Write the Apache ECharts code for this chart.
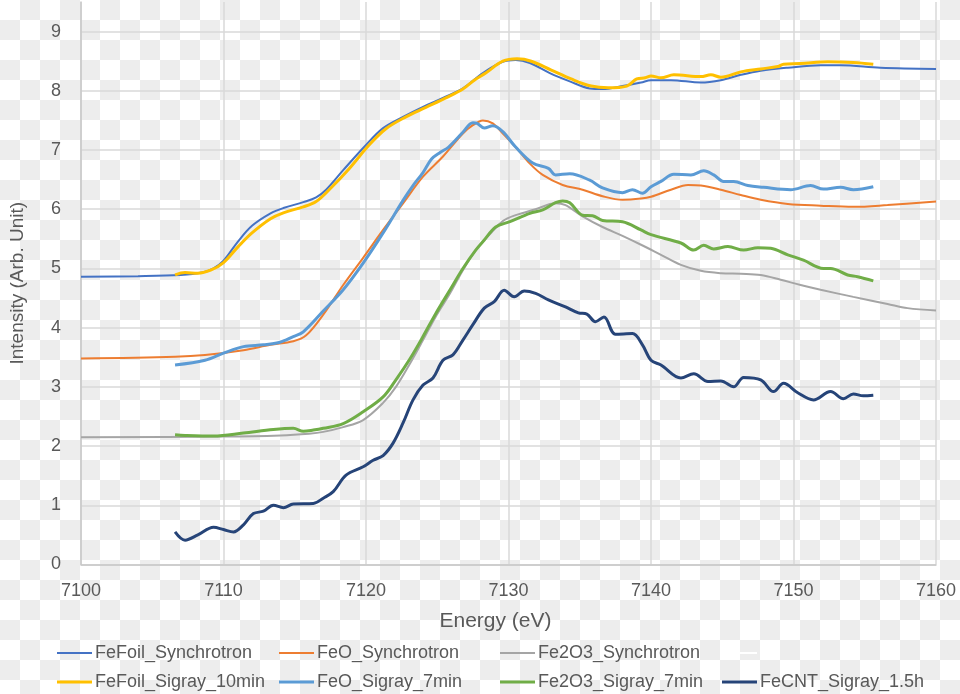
<!DOCTYPE html>
<html>
<head>
<meta charset="utf-8">
<script src="https://cdn.jsdelivr.net/npm/echarts@6/dist/echarts.min.js"></script>
<style>
html,body{margin:0;padding:0;width:960px;height:694px;overflow:hidden;
background:repeating-conic-gradient(#ededed 0 25%, #ffffff 0 50%) 0 0/40px 40px;}
#chart{width:960px;height:694px;}
</style>
</head>
<body>
<div id="chart"></div>
<script>
// ---- data (energy eV, intensity arb. unit) ----
const xTicks = [7100, 7110, 7120, 7130, 7140, 7150, 7160];
const yTicks = [0, 1, 2, 3, 4, 5, 6, 7, 8, 9];

const feFoilSync = [[7100,4.86],[7104,4.87],[7107,4.89],[7108.5,4.93],[7109.3,5.0],[7110,5.13],[7111,5.45],[7112,5.72],[7113.3,5.93],[7114.2,6.02],[7115.6,6.12],[7116.5,6.2],[7117.2,6.33],[7118.4,6.66],[7119.9,7.06],[7121.2,7.37],[7122.6,7.56],[7124,7.73],[7125.4,7.88],[7126.8,8.04],[7128.2,8.3],[7129.6,8.49],[7130.5,8.52],[7131.5,8.47],[7132.9,8.3],[7134.3,8.16],[7135.7,8.04],[7136.6,8.03],[7138,8.08],[7139.3,8.14],[7140,8.18],[7141.4,8.18],[7143.5,8.14],[7144.9,8.18],[7146.3,8.27],[7147.7,8.34],[7149.6,8.39],[7151.9,8.43],[7153.3,8.43],[7156.1,8.39],[7160,8.37]];

const feoSync = [[7100,3.48],[7106.6,3.51],[7108.7,3.54],[7111.4,3.62],[7113.3,3.71],[7114.9,3.77],[7115.8,3.87],[7117,4.22],[7118.4,4.72],[7119.8,5.18],[7121.2,5.65],[7122.6,6.1],[7124,6.55],[7125.4,6.89],[7126.8,7.28],[7127.5,7.42],[7128.2,7.5],[7128.9,7.45],[7129.6,7.28],[7130.5,7.05],[7131.5,6.77],[7132.4,6.58],[7133.8,6.41],[7135.2,6.33],[7136.6,6.22],[7138,6.16],[7139.3,6.18],[7140,6.21],[7141.4,6.33],[7142.6,6.41],[7143.5,6.4],[7144.9,6.33],[7146.3,6.24],[7147.7,6.16],[7149.6,6.09],[7151.9,6.06],[7154.2,6.04],[7156.6,6.07],[7160,6.13]];

const fe2o3Sync = [[7100,2.15],[7110,2.16],[7114,2.18],[7116,2.21],[7117,2.24],[7118.4,2.32],[7119.8,2.44],[7121.2,2.73],[7122.1,3.0],[7123.1,3.4],[7124,3.79],[7124.9,4.19],[7125.9,4.58],[7126.8,4.97],[7127.7,5.31],[7128.7,5.58],[7129.6,5.8],[7130.5,5.9],[7131.9,6.0],[7133.3,6.1],[7134,6.07],[7135.2,5.88],[7136.6,5.7],[7138,5.55],[7139.3,5.4],[7140.7,5.23],[7142.1,5.06],[7143.5,4.96],[7144.9,4.92],[7146.3,4.91],[7147.7,4.89],[7149.1,4.81],[7150.5,4.72],[7151.9,4.64],[7154.2,4.52],[7156.6,4.4],[7158,4.33],[7160,4.29]];

const feFoilSigray = [[7106.6,4.89],[7107.3,4.93],[7108.2,4.92],[7109.1,4.97],[7110,5.1],[7111,5.36],[7112,5.6],[7113.3,5.84],[7114.2,5.94],[7115.6,6.04],[7116.5,6.13],[7117.5,6.35],[7118.8,6.68],[7120.2,7.08],[7121.4,7.36],[7122.8,7.56],[7124.2,7.72],[7125.6,7.88],[7126.8,8.03],[7127.6,8.18],[7128.4,8.3],[7129.6,8.5],[7130.6,8.54],[7131.6,8.5],[7133,8.35],[7134.4,8.2],[7135.8,8.08],[7137,8.05],[7138.3,8.08],[7139,8.2],[7139.6,8.22],[7140,8.25],[7140.7,8.22],[7141.6,8.27],[7143.5,8.24],[7144.2,8.27],[7144.9,8.23],[7146.3,8.32],[7147.7,8.37],[7148.9,8.41],[7149.3,8.45],[7150.5,8.46],[7152.4,8.49],[7154.2,8.48],[7155.6,8.45]];

const feoSigray = [[7106.6,3.37],[7108.7,3.45],[7110,3.57],[7111.4,3.68],[7112.8,3.71],[7113.9,3.75],[7114.9,3.85],[7115.6,3.93],[7117,4.28],[7118.4,4.64],[7119.8,5.09],[7121.2,5.6],[7122.6,6.15],[7123.3,6.4],[7124,6.62],[7124.6,6.85],[7125.2,6.96],[7125.8,7.05],[7126.8,7.3],[7127.5,7.46],[7127.8,7.45],[7128.3,7.37],[7128.9,7.41],[7129.6,7.31],[7130.5,7.05],[7131.7,6.78],[7132.8,6.69],[7133.3,6.58],[7134.3,6.6],[7135.7,6.49],[7136.6,6.36],[7138,6.28],[7138.7,6.33],[7139.4,6.27],[7140,6.38],[7140.7,6.47],[7141.6,6.59],[7142.8,6.58],[7143.7,6.65],[7144.4,6.58],[7145.1,6.47],[7145.8,6.47],[7146.8,6.4],[7147.9,6.37],[7149.8,6.33],[7151.2,6.4],[7152.1,6.34],[7153.3,6.37],[7154.2,6.33],[7155.6,6.38]];

const fe2o3Sigray = [[7106.6,2.19],[7107.3,2.18],[7109.3,2.17],[7111.4,2.22],[7113.5,2.28],[7114.9,2.3],[7115.6,2.25],[7116.3,2.27],[7117,2.3],[7118.4,2.38],[7119.8,2.58],[7121.2,2.83],[7122.1,3.12],[7123.1,3.48],[7124,3.85],[7124.9,4.24],[7125.9,4.64],[7126.8,5.0],[7127.7,5.31],[7128.3,5.48],[7129.1,5.7],[7130.1,5.79],[7131.5,5.93],[7132.4,5.99],[7133.3,6.11],[7133.8,6.14],[7134.3,6.11],[7135.2,5.9],[7135.9,5.89],[7136.6,5.81],[7138,5.79],[7139.3,5.65],[7140,5.57],[7142.1,5.43],[7143,5.31],[7143.7,5.39],[7144.4,5.33],[7145.4,5.37],[7146.5,5.31],[7147.5,5.35],[7148.4,5.34],[7149.6,5.23],[7150.7,5.14],[7152.1,5.0],[7152.6,5.0],[7153.8,4.89],[7154.5,4.86],[7155.6,4.79]];

const feCNTSigray = [[7106.6,0.55],[7107.3,0.41],[7108.2,0.5],[7109.3,0.63],[7110,0.59],[7110.7,0.55],[7111.4,0.67],[7112.1,0.86],[7112.8,0.9],[7113.5,1.0],[7114.2,0.96],[7114.9,1.02],[7116.3,1.03],[7117,1.12],[7117.7,1.23],[7118.6,1.51],[7119.8,1.65],[7120.5,1.76],[7121.2,1.84],[7121.9,2.05],[7122.6,2.39],[7123.3,2.78],[7124,3.03],[7124.7,3.15],[7125.4,3.45],[7126.1,3.54],[7126.8,3.79],[7127.5,4.05],[7128.3,4.33],[7129,4.44],[7129.7,4.63],[7130.4,4.52],[7131.1,4.62],[7131.9,4.58],[7132.8,4.47],[7134,4.35],[7134.9,4.25],[7135.5,4.23],[7136.1,4.1],[7136.7,4.18],[7137.5,3.89],[7138.7,3.9],[7139.4,3.71],[7140,3.45],[7140.7,3.37],[7142.1,3.15],[7143,3.22],[7144,3.09],[7144.9,3.1],[7145.8,3.0],[7146.5,3.16],[7147.7,3.12],[7148.6,2.92],[7149.3,3.06],[7150.3,2.9],[7151.4,2.78],[7152.6,2.92],[7153.5,2.8],[7154.2,2.88],[7154.9,2.85],[7155.6,2.86]];

const seriesNames = ['FeFoil_Synchrotron','FeO_Synchrotron','Fe2O3_Synchrotron',' ','FeFoil_Sigray_10min','FeO_Sigray_7min','Fe2O3_Sigray_7min','FeCNT_Sigray_1.5h'];
const seriesData = [feFoilSync, feoSync, fe2o3Sync, [], feFoilSigray, feoSigray, fe2o3Sigray, feCNTSigray];
const seriesColors = ['#4472C4','#ED7D31','#A5A5A5','#FFFFFF','#FFC000','#5B9BD5','#70AD47','#264478'];
const seriesWidths = [2, 2, 2, 2, 3, 3, 3, 3];

const textColor = '#595959';
const font = '"Liberation Sans", Arial, sans-serif';

const chart = echarts.init(document.getElementById('chart'));

const series = seriesNames.map((n, i) => ({
  name: n,
  type: 'line',
  data: seriesData[i],
  smooth: 0.35,
  symbol: 'none',
  color: seriesColors[i],
  lineStyle: { width: seriesWidths[i], color: seriesColors[i] },
  z: i < 4 ? 2 : 3
}));

const colX = [57, 279, 500, 722];
const rowY = [643, 672];
const legends = seriesNames.map((n, i) => ({
  data: [n],
  left: colX[i % 4],
  top: rowY[Math.floor(i / 4)],
  icon: 'rect',
  itemWidth: 35,
  itemHeight: seriesWidths[i],
  itemGap: 0,
  padding: 0,
  textStyle: { color: textColor, fontSize: 18, lineHeight: 20, fontFamily: font, padding: [0, 0, 0, -2] }
}));

const ySplitColors = yTicks.map(() => '#d9d9d9').concat(['rgba(0,0,0,0)']);

chart.setOption({
  animation: false,
  backgroundColor: 'transparent',
  grid: { left: 76, right: 24, top: 2, bottom: 129.5, containLabel: false },
  legend: legends,
  xAxis: {
    type: 'value',
    min: xTicks[0],
    max: xTicks[xTicks.length - 1],
    interval: 10,
    name: 'Energy (eV)',
    nameLocation: 'middle',
    nameGap: 46,
    nameTextStyle: { color: textColor, fontSize: 21, fontFamily: font, padding: [0, 26, 0, 0] },
    axisLine: { show: true, lineStyle: { color: '#c8c8c8', width: 1.5 } },
    axisTick: { show: false },
    axisLabel: { color: textColor, fontSize: 18, fontFamily: font, margin: 18, formatter: v => String(v) },
    splitLine: { show: true, lineStyle: { color: '#d9d9d9', width: 1.5 } }
  },
  yAxis: {
    type: 'value',
    min: 0,
    max: 9.5,
    interval: 1,
    name: 'Intensity (Arb. Unit)',
    nameLocation: 'middle',
    nameGap: 54,
    nameRotate: 90,
    nameTextStyle: { color: textColor, fontSize: 19, fontFamily: font },
    axisLine: { show: true, lineStyle: { color: '#c8c8c8', width: 1.5 } },
    axisTick: { show: false },
    axisLabel: {
      color: textColor, fontSize: 18, fontFamily: font, margin: 20,
      formatter: v => (Number.isInteger(v) ? String(v) : '')
    },
    splitLine: { show: true, lineStyle: { color: ySplitColors, width: 1.5 } }
  },
  series: series
});
</script>
</body>
</html>
